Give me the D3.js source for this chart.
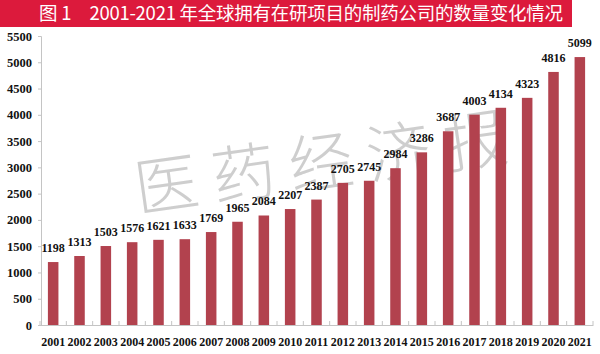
<!DOCTYPE html>
<html><head><meta charset="utf-8">
<script src="https://cdn.jsdelivr.net/npm/d3@7"></script>
<style>body{margin:0;background:#fff}svg{display:block}</style>
</head><body><svg id="c" width="600" height="354"></svg>
<script>
const years = ["2001","2002","2003","2004","2005","2006","2007","2008","2009","2010","2011","2012","2013","2014","2015","2016","2017","2018","2019","2020","2021"];
const counts = [1198,1313,1503,1576,1621,1633,1769,1965,2084,2207,2387,2705,2745,2984,3286,3687,4003,4134,4323,4816,5099];
const yTicks = [0,500,1000,1500,2000,2500,3000,3500,4000,4500,5000,5500];
const title = "图 1　2001-2021 年全球拥有在研项目的制药公司的数量变化情况";
const watermark = ["医","药","经","济","报"];

const svg = d3.select("#c");
const serif = "'Liberation Serif','Times New Roman',serif";
const L = 40, R = 593, T = 36, B = 325;

// title banner
svg.append("rect").attr("x",0).attr("y",0).attr("width",572).attr("height",27).attr("fill","#dc1a3c");
svg.append("text").attr("x",39).attr("y",20).attr("fill","#fff")
  .attr("textLength",524).attr("lengthAdjust","spacing")
  .attr("font-family","'Noto Sans CJK SC',sans-serif").attr("font-size",18.5).text(title);

const x = d3.scaleBand().domain(years).range([L,R]).paddingInner(0.6).paddingOuter(0.3);
const y = d3.scaleLinear().domain([0,5500]).range([B,T]);

// watermark
const wm = svg.append("g").attr("transform","translate(138,212) rotate(-8)");
wm.selectAll("text").data(watermark).join("text")
  .attr("x",(d,i)=>i*78).attr("y",0)
  .attr("font-family","'Noto Sans CJK SC',sans-serif").attr("font-weight",300)
  .attr("font-size",64).attr("fill","#bdbdbd").attr("fill-opacity",0.75).text(d=>d);

// y axis
const ya = svg.append("g").attr("transform",`translate(${L+1},0)`)
  .call(d3.axisLeft(y).tickValues(yTicks).tickFormat(d3.format("d")).tickSize(3).tickPadding(6));
ya.select(".domain").attr("stroke","#c4c4c4");
ya.selectAll(".tick line").attr("stroke","#c4c4c4");
ya.selectAll("text").attr("font-family",serif).attr("font-weight","bold").attr("font-size",12.5).attr("fill","#111");

// bars
svg.append("g").selectAll("rect").data(counts).join("rect")
  .attr("x",(d,i)=>x(years[i])).attr("width",x.bandwidth())
  .attr("y",d=>y(d)).attr("height",d=>B-y(d)).attr("fill","#b2424e");

// x axis
const xa = svg.append("g").attr("transform",`translate(0,${B})`)
  .call(d3.axisBottom(x).tickSize(0).tickPadding(12));
xa.select(".domain").attr("stroke","#c4c4c4");
xa.selectAll("text").attr("font-family",serif).attr("font-weight","bold").attr("font-size",12).attr("fill","#111");
const step = x.step();
svg.append("g").selectAll("line").data(d3.range(years.length+1)).join("line")
  .attr("x1",i=>L+i*step).attr("x2",i=>L+i*step).attr("y1",B).attr("y2",B-4)
  .attr("stroke","#c4c4c4");

// value labels
svg.append("g").selectAll("text").data(counts).join("text")
  .attr("x",(d,i)=>x(years[i])+x.bandwidth()/2).attr("y",d=>y(d)-10)
  .attr("text-anchor","middle").attr("font-family",serif).attr("font-weight","bold")
  .attr("font-size",12).attr("fill","#111").text(d=>d);
</script></body></html>
